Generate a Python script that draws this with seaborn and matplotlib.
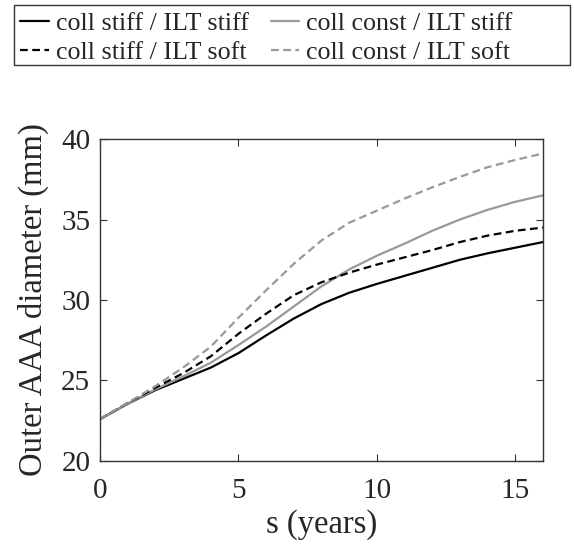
import numpy as np
import pandas as pd
import matplotlib
matplotlib.use("Agg")
import matplotlib.pyplot as plt
from matplotlib.patches import Rectangle
import seaborn as sns

# time axis (years)
s_years = [0, 1, 2, 3, 4, 5, 6, 7, 8, 9, 10, 11, 12, 13, 14, 15, 16]

# outer AAA diameter (mm)
stiff_stiff = [22.6, 23.55, 24.4, 25.1, 25.8, 26.7, 27.8, 28.85, 29.75, 30.45, 31.0,
               31.5, 32.0, 32.5, 32.9, 33.25, 33.6]
const_stiff = [22.6, 23.55, 24.45, 25.25, 26.1, 27.2, 28.35, 29.6, 30.85, 31.9, 32.75,
               33.5, 34.3, 35.0, 35.6, 36.1, 36.5]
stiff_soft = [22.6, 23.6, 24.55, 25.45, 26.5, 27.9, 29.15, 30.3, 31.1, 31.7, 32.2,
              32.65, 33.1, 33.6, 34.0, 34.3, 34.5]
const_soft = [22.6, 23.6, 24.65, 25.8, 27.1, 28.9, 30.6, 32.25, 33.7, 34.8, 35.55,
              36.3, 37.0, 37.65, 38.25, 38.7, 39.1]

labels = ["coll stiff / ILT stiff", "coll const / ILT stiff",
          "coll stiff / ILT soft", "coll const / ILT soft"]
series = [stiff_stiff, const_stiff, stiff_soft, const_soft]

x_ticks = [0, 5, 10, 15]
y_ticks = [20, 25, 30, 35, 40]

df = pd.concat([pd.DataFrame({"s": s_years, "d": v, "case": lab})
                for lab, v in zip(labels, series)], ignore_index=True)

sns.set_theme(style="ticks")
plt.rcParams["font.family"] = ["Liberation Serif", "DejaVu Serif"]

W, H = 574, 546
fig = plt.figure(figsize=(W / 100, H / 100), dpi=100)
ax = fig.add_axes([0.1742, 0.1557, 0.7718, 0.5897])

palette = {labels[0]: "#000000", labels[1]: "#999999",
           labels[2]: "#000000", labels[3]: "#999999"}
dashes = {labels[0]: "", labels[1]: "", labels[2]: (3.5, 2), labels[3]: (3.5, 2)}

sns.lineplot(data=df, x="s", y="d", hue="case", style="case", palette=palette,
             dashes=dashes, linewidth=1.6, ax=ax, legend=True)

handles, labs = ax.get_legend_handles_labels()
ax.get_legend().remove()
# column-wise order like the reference
order = [0, 2, 1, 3]
leg = fig.legend([handles[i] for i in order], [labs[i] for i in order],
                 loc="upper left", bbox_to_anchor=(14 / W, 1 - 5 / H),
                 ncol=2, fontsize=18.7, frameon=False,
                 handlelength=1.1, handletextpad=0.25, borderaxespad=0, borderpad=0.25,
                 labelspacing=0.25, columnspacing=0.85)
# legend box spans the full figure width
fig.patches.append(Rectangle((14 / W, 1 - 65 / H), 556 / W, 60 / H,
                             transform=fig.transFigure, fill=False,
                             edgecolor="#333333", linewidth=1.0))

ax.set_xlim(0, 16)
ax.set_ylim(20, 40)
ax.set_xticks(x_ticks)
ax.set_yticks(y_ticks)
ax.tick_params(direction="in", top=True, right=True, labelsize=21, length=5,
               width=0.8, color="#333333")
ax.tick_params(axis="x", pad=12)
ax.tick_params(axis="y", pad=7)
for sp in ax.spines.values():
    sp.set_visible(True)
    sp.set_color("#333333")
    sp.set_linewidth(1.0)

ax.set_xlabel("s (years)", fontsize=23.5, labelpad=4)
ax.set_ylabel("Outer AAA diameter (mm)", fontsize=23.5, labelpad=9)

fig.savefig("out.png", dpi=100, facecolor="white")
